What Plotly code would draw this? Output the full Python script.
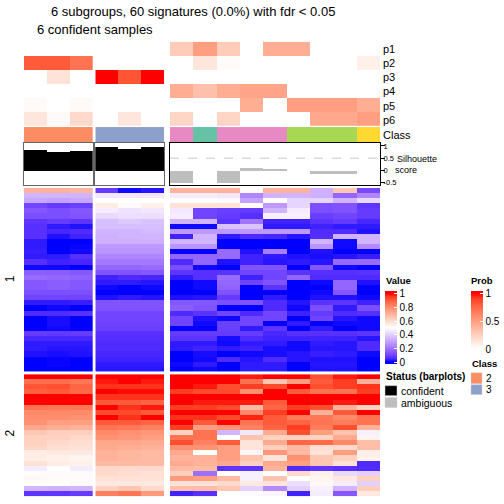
import plotly.graph_objects as go

W = H = 504
FONT = "Liberation Sans"

title_main = "6 subgroups, 60 signatures (0.0%) with fdr &lt; 0.05"
title_sub = "6 confident samples"
row_names = ["p1", "p2", "p3", "p4", "p5", "p6"]

# Probabilities, one row per p, by panel
prob_a = [[0, 0, 0], [.8, .8, .7], [0, .15, 0], [0, 0, 0], [.03, 0, .03], [.13, .03, .2]]
prob_b = [[0, 0, 0], [0, 0, 0], [1, .82, 1], [0, 0, 0], [0, 0, 0], [0, .13, 0]]
prob_c = [[.27, .5, .27, 0, .42, .42, 0, 0, 0],
          [0, .13, .02, 0, 0, 0, 0, 0, .08],
          [0, 0, 0, 0, 0, 0, 0, 0, 0],
          [.42, .33, .42, .47, .47, 0, 0, 0, 0],
          [0, 0, 0, .42, 0, .5, .5, .5, .42],
          [.22, 0, .22, 0, 0, 0, .45, .45, .5]]

# Class codes
class_a = [2, 2, 2]
class_b = [3, 3, 3]
class_c = [5, 1, 5, 5, 5, 4, 4, 4, 6]
class_colors = {1: "#66C2A5", 2: "#FC8D62", 3: "#8DA0CB", 4: "#A6D854", 5: "#E78AC3", 6: "#FFD92F"}

# Silhouette
sil_a = [.84, .78, .82]
sil_b = [.97, .89, .96]
sil_c = [-.5, 0, -.5, .1, .07, 0, -.15, -.15, 0]

# Heatmap, row group 1
h1_a = [[.7, .7, .69], [.34, .34, .34], [.31, .3, .31], [.1, .08, .09], [.14, .12, .14], [.12, .12, .13],
        [.07, .08, .07], [.06, .03, .02], [.06, .045, .05], [.06, .02, .04], [.03, 0, 0], [.03, 0, .005],
        [.035, 0, .01], [.03, .03, .06], [.06, .04, .045], [.01, .01, 0], [.15, .15, .14], [.18, .17, .16],
        [.14, .15, .14], [.14, .15, .14], [.12, .12, .12], [.1, .1, .1], [.03, .03, .035], [0, .01, 0],
        [.05, .05, .06], [0, .015, 0], [0, .015, 0], [0, .01, 0], [.08, .075, .08], [.045, .045, .045],
        [.03, .03, .03], [.03, .025, .025], [.02, .015, .02], [0, .005, 0], [0, .005, 0], [0, 0, 0]]
h1_b = [[.08, .01, .025], [.45, .45, .45], [.5, .5, .5], [.55, .51, .54], [.46, .44, .45], [.42, .43, .43],
        [.36, .38, .37], [.36, .36, .36], [.34, .34, .35], [.33, .34, .34], [.33, .33, .33], [.28, .28, .28],
        [.27, .27, .27], [.24, .24, .24], [.21, .21, .21], [.17, .17, .18], [.13, .13, .14], [.04, .05, .045],
        [.03, .03, .025], [.01, 0, .01], [0, 0, 0], [.02, .03, .025], [.13, .13, .13], [.13, .13, .13],
        [.1, .1, .1], [.1, .1, .1], [.095, .095, .095], [.09, .09, .09], [.06, .06, .06], [.055, .055, .055],
        [.05, .05, .05], [.05, .05, .05], [.045, .045, .045], [.04, .04, .04], [.03, .03, .03], [.025, .025, .025]]
h1_c = [[.7, .7, .7, .51, .7, .7, .33, .65, .11],
        [.46, .46, .45, .24, .34, .34, .33, .17, .24],
        [.5, .5, .49, .3, .51, .41, .41, .34, .42],
        [.58, .58, .58, .51, .28, .41, .12, .13, .07],
        [.45, .1, .09, .08, .34, .46, .12, .13, .08],
        [.46, .1, .08, .06, .47, .47, .09, .1, .08],
        [.34, .34, .065, .2, .04, .04, .065, .08, .045],
        [.01, .01, .37, .37, .03, .03, .04, .03, .03],
        [.28, .28, .28, .28, .28, .28, .05, .05, .02],
        [.04, .34, .03, .05, .045, .025, .055, .33, .34],
        [.34, .34, 0, 0, 0, 0, .34, .01, .34],
        [.27, .27, 0, 0, 0, 0, .27, .01, .25],
        [0, 0, .18, .02, .22, 0, .02, 0, 0],
        [.17, .17, .18, .04, .03, .02, .015, .025, .035],
        [.05, .17, .02, .04, .025, .03, .025, .18, .18],
        [.12, .01, 0, .13, .13, 0, .14, .01, 0],
        [.07, .06, .065, .1, .1, .065, .06, .06, .065],
        [.03, .06, .18, .04, .1, .17, .05, .05, .05],
        [0, .01, .17, .1, .13, 0, .01, .17, .02],
        [0, .01, .16, 0, .07, 0, 0, .17, 0],
        [0, 0, .13, 0, 0, 0, .01, .14, 0],
        [.02, .025, .08, 0, .03, 0, .02, .02, .01],
        [.14, .14, .12, .13, .05, .025, .065, .07, .04],
        [.15, .13, 0, 0, .05, .01, .12, .03, .12],
        [.05, .065, .1, .05, .1, .04, .08, .05, .06],
        [.1, .02, .01, .1, .1, 0, .1, .025, .01],
        [.1, .01, .09, .1, 0, .03, 0, .01, .01],
        [0, 0, .09, .03, .07, 0, .03, 0, .01],
        [.08, .08, .08, .08, .045, .06, .06, .06, .07],
        [.065, .065, .015, .05, .04, .04, .04, .04, .025],
        [.03, .03, .01, .03, .03, .01, .03, .025, .05],
        [.03, .04, .03, .04, .015, .01, .025, .025, .05],
        [0, .015, 0, .01, .015, .025, .035, .03, .01],
        [0, .01, .05, .025, .05, .025, .02, .02, 0],
        [.01, .03, 0, .03, .03, 0, .025, .025, 0],
        [0, .01, 0, .03, .03, 0, .02, .02, 0]]

# Heatmap, row group 2
h2_a = [[1, 1, 1], [.86, .86, .84], [.91, .92, .88], [.89, .9, .87], [1, 1, 1], [1, 1, 1], [.85, .84, .84],
        [.8, .8, .8], [.79, .79, .78], [.78, .75, .75], [.73, .71, .7], [.65, .63, .63], [.62, .62, .6],
        [.62, .6, .59], [.61, .59, .58], [.55, .56, .56], [.55, .54, .53], [.58, .55, .54], [.46, .5, .46],
        [.51, .51, .51], [.52, .51, .51], [.5, .5, .49], [.34, .33, .34], [.07, .07, .08]]
h2_b = [[1, 1, 1], [.98, 1, .98], [.96, .96, .96], [1, .99, .99], [.96, .96, .96], [.9, .9, .88], [1, .96, .98],
        [.93, .93, .9], [1, .96, 1], [.9, .9, .88], [.85, .84, .82], [.8, .78, .77], [.78, .77, .75],
        [.73, .73, .72], [.72, .71, .7], [.7, .69, .68], [.7, .69, .68], [.68, .68, .68], [.6, .6, .6],
        [.6, .59, .58], [.58, .58, .58], [.56, .56, .56], [.62, .65, .6], [.82, .84, .76]]
h2_c = [[1, 1, 1, .98, 1, 1, .92, .98, 1],
        [1, 1, 1, .85, .65, .75, .9, .95, .7],
        [1, .98, .92, .95, .93, 1, .92, .95, .96],
        [.95, .93, .93, .78, 1, .9, .85, .85, .95],
        [1, 1, 1, 1, 1, 1, 1, 1, 1],
        [1, .98, .98, .98, .9, 1, 1, .98, 1],
        [.95, .95, .93, .68, .88, .95, .92, .7, .62],
        [1, 1, 1, .8, .95, 1, .7, .9, 1],
        [.96, .96, .93, .97, .9, .83, .84, .8, .85],
        [1, .9, 1, .85, .9, .88, .85, .83, .85],
        [.95, .75, .78, .82, .88, .95, .83, .92, .7],
        [.62, .85, .34, .45, .72, .92, .75, .66, .47],
        [.85, .85, .5, .66, .62, .62, .62, .72, .53],
        [.92, .82, .9, .57, .72, .88, .87, .8, .67],
        [.78, .78, .75, .57, .63, .68, .59, .6, .67],
        [.72, .5, .75, .48, .77, .68, .58, .75, .54],
        [.7, .7, .75, .66, .57, .78, .65, .62, .54],
        [.72, .7, .72, .62, .72, .75, .65, .58, .05],
        [.68, .68, .07, .07, .7, .05, .07, .06, .05],
        [.63, .19, .5, .47, .5, .6, .54, .42, .4],
        [.76, .75, .68, .47, .66, .5, .53, .56, .62],
        [.58, .58, .6, .56, .57, .43, .52, .46, .4],
        [.67, .67, .65, .4, .25, .4, .47, .34, .63],
        [.04, .06, .5, .49, .48, .04, .46, .14, .56]]

value_ticks = [0, .2, .4, .6, .8, 1]
value_range = [-.03, 1.036]
prob_ticks = [0, .5, 1]
prob_range = [-.001, 1.036]


def srgb_to_lab(c):
    def lin(v):
        v /= 255
        return v / 12.92 if v <= .04045 else ((v + .055) / 1.055) ** 2.4
    r, g, b = [lin(v) for v in c]
    x = (.4124 * r + .3576 * g + .1805 * b) / .95047
    y = .2126 * r + .7152 * g + .0722 * b
    z = (.0193 * r + .1192 * g + .9505 * b) / 1.08883
    f = lambda t: t ** (1 / 3) if t > .008856 else 7.787 * t + 16 / 116
    return 116 * f(y) - 16, 500 * (f(x) - f(y)), 200 * (f(y) - f(z))


def lab_to_hex(l, a, b):
    fy = (l + 16) / 116
    g = lambda t: t ** 3 if t > .2069 else (t - 16 / 116) / 7.787
    x, y, z = .95047 * g(fy + a / 500), g(fy), 1.08883 * g(fy - b / 200)
    rgb = (3.2406 * x - 1.5372 * y - .4986 * z, -.9689 * x + 1.8758 * y + .0415 * z, .0557 * x - .204 * y + 1.057 * z)
    def gam(v):
        v = min(max(v, 0), 1)
        return 12.92 * v if v <= .0031308 else 1.055 * v ** (1 / 2.4) - .055
    return "#%02x%02x%02x" % tuple(round(255 * gam(v)) for v in rgb)


def ramp(c0, c1, start, end, rng, n=10):
    a, b = srgb_to_lab(c0), srgb_to_lab(c1)
    pos = lambda v: (v - rng[0]) / (rng[1] - rng[0])
    return [[pos(start + (end - start) * i / n), lab_to_hex(*[a[k] + (b[k] - a[k]) * i / n for k in range(3)])]
            for i in range(n + 1)]


BLUE, WHITE, RED = (0, 0, 255), (255, 255, 255), (255, 0, 0)
value_scale = [[0, "#0000ff"]] + ramp(BLUE, WHITE, 0, .5, value_range) + ramp(WHITE, RED, .5, 1, value_range)[1:] + [[1, "#ff0000"]]
prob_scale = [[0, "#ffffff"]] + ramp(WHITE, RED, 0, 1, prob_range) + [[1, "#ff0000"]]
class_scale = []
for k, col in class_colors.items():
    class_scale += [[(k - 1) / 6, col], [k / 6, col]]

fig = go.Figure()
COLS = [(24, 92.7), (95.3, 164), (170, 380)]
axis_count = 0


def panel(x0, x1, y0, y1, xopts=None, yopts=None):
    global axis_count
    axis_count += 1
    s = "" if axis_count == 1 else str(axis_count)
    base = dict(showgrid=False, zeroline=False, showticklabels=False, ticks="")
    fig.layout["xaxis" + s] = dict(base, domain=[x0 / W, x1 / W], anchor="y" + s, **(xopts or {}))
    fig.layout["yaxis" + s] = dict(base, domain=[1 - y1 / H, 1 - y0 / H], anchor="x" + s, **(yopts or {}))
    return "x" + s, "y" + s


def heat(x0, x1, y0, y1, z, **kw):
    xa, ya = panel(x0, x1, y0, y1, yopts=dict(autorange="reversed"))
    fig.add_trace(go.Heatmap(z=z, xaxis=xa, yaxis=ya, xgap=0, ygap=0, hoverinfo="skip", **kw))


groups = [(prob_a, class_a, sil_a, h1_a, h2_a), (prob_b, class_b, sil_b, h1_b, h2_b), (prob_c, class_c, sil_c, h1_c, h2_c)]
for i, ((cx0, cx1), (pr, cl, si, h1, h2)) in enumerate(zip(COLS, groups)):
    heat(cx0, cx1, 41, 126, pr, coloraxis="coloraxis2")
    heat(cx0, cx1, 126.8, 142, [cl], colorscale=class_scale, zmin=.5, zmax=6.5, showscale=False)
    heat(cx0, cx1, 188, 372.8, h1, coloraxis="coloraxis")
    heat(cx0, cx1, 375.4, 498.4, h2, coloraxis="coloraxis")

    framecol = "#000000" if i == 2 else "#666666"
    yo = dict(range=[-.59, 1.13], showline=True, mirror=True, linecolor=framecol, linewidth=1.2)
    if i == 2:
        yo.update(side="right", ticks="outside", ticklen=4, tickwidth=1, tickcolor="#000000", tickvals=[-.5, 0, .5, 1],
                  ticktext=["-0.5", "0", "0.5", "1"], showticklabels=True, ticklabelstandoff=-3,
                  tickfont=dict(family=FONT, size=7.5, color="#000000"))
    xa, ya = panel(cx0, cx1, 142.6, 185, xopts=dict(range=[-.5, len(si) - .5], showline=True, mirror=True, linecolor=framecol, linewidth=1.2), yopts=yo)
    barcol = "#000000" if i < 2 else "#BEBEBE"
    fig.add_trace(go.Bar(x=list(range(len(si))), y=si, xaxis=xa, yaxis=ya, width=1, marker=dict(color=barcol, line_width=0), hoverinfo="skip"))
    if i == 2:
        fig.add_shape(type="line", xref=xa, yref=ya, x0=-.5, x1=8.5, y0=.5, y1=.5, line=dict(color="#C8C8C8", width=1, dash="dash"))

fig.update_layout(
    width=W, height=H, margin=dict(l=0, r=0, t=0, b=0), paper_bgcolor="white", plot_bgcolor="white",
    showlegend=False, bargap=0, barmode="overlay",
    coloraxis=dict(cmin=value_range[0], cmax=value_range[1], colorscale=value_scale, colorbar=dict(
        thickness=12, thicknessmode="pixels", len=73, lenmode="pixels", x=385 / W, xanchor="left", y=1 - 365.5 / H,
        yanchor="bottom", xpad=0, ypad=0, outlinewidth=0, ticks="inside", ticklen=3, tickcolor="white", tickvals=value_ticks,
        ticktext=["0", "0.2", "0.4", "0.6", "0.8", "1"], tickfont=dict(family=FONT, size=10, color="#000000"))),
    coloraxis2=dict(cmin=prob_range[0], cmax=prob_range[1], colorscale=prob_scale, colorbar=dict(
        thickness=12, thicknessmode="pixels", len=58, lenmode="pixels", x=470.5 / W, xanchor="left", y=1 - 350.5 / H,
        yanchor="bottom", xpad=0, ypad=0, outlinewidth=0, ticks="inside", ticklen=3, tickcolor="white", tickvals=prob_ticks,
        ticktext=["0", "0.5", "1"], tickfont=dict(family=FONT, size=10, color="#000000"))),
)


def text(px, py, s, size=10, bold=False, angle=0, anchor="left"):
    fig.add_annotation(xref="paper", yref="paper", x=px / W, y=1 - py / H, text=f"<b>{s}</b>" if bold else s, showarrow=False,
                       xanchor=anchor, yanchor="middle", textangle=angle, align="left", borderpad=0,
                       font=dict(family=FONT, size=size, color="#000000"))


text(50, 10.5, title_main, 13)
text(35.5, 28.5, title_sub, 13)
for i, name in enumerate(row_names):
    text(382, 48.5 + 14.17 * i, name, 11)
text(382, 135, "Class", 11)
text(396, 159, "Silhouette", 9)
text(394, 170, "score", 9)
text(10, 280, "1", 12, angle=-90, anchor="center")
text(10, 435, "2", 12, angle=-90, anchor="center")
text(385, 281, "Value", 9.5, bold=True)
text(470, 281, "Prob", 9.5, bold=True)
text(471, 365, "Class", 9.5, bold=True)
text(385, 378, "Status (barplots)", 10, bold=True)
text(399.5, 392, "confident", 10.5)
text(399.5, 404, "ambiguous", 10.5)
text(485, 379.5, "2", 10)
text(485, 391, "3", 10)


def swatch(x0, y0, x1, y1, col):
    fig.add_shape(type="rect", xref="paper", yref="paper", x0=x0 / W, x1=x1 / W, y0=1 - y0 / H, y1=1 - y1 / H,
                  fillcolor=col, line=dict(color="#D0D0D0", width=.5))


swatch(471, 374, 482, 385, class_colors[2])
swatch(471, 386, 482, 396, class_colors[3])
swatch(385, 387, 397, 397, "#000000")
swatch(385, 399, 397, 409, "#BEBEBE")

fig.write_html("out.html", config=dict(displayModeBar=False), post_script="document.body.style.margin='0';")
